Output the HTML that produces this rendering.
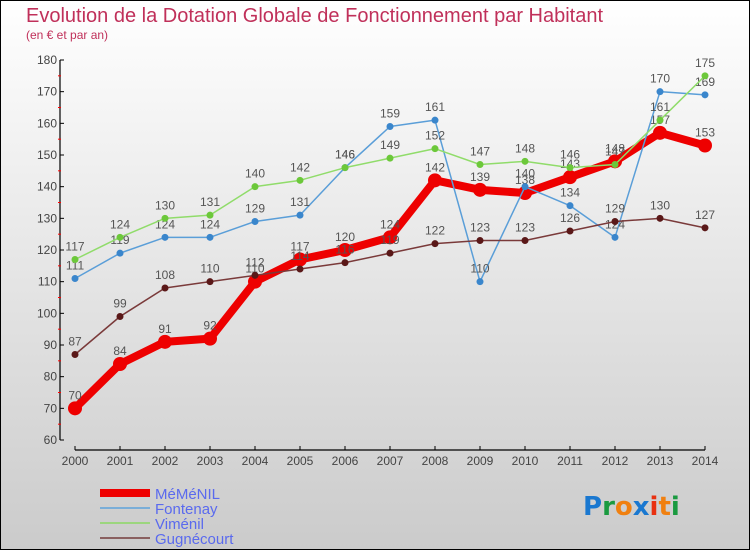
<!DOCTYPE html>
<html><head><meta charset="utf-8"><style>
body{margin:0;width:750px;height:550px;overflow:hidden}
svg{display:block;font-family:"Liberation Sans",sans-serif}
</style></head><body>
<svg width="750" height="550" viewBox="0 0 750 550">
<defs><linearGradient id="bg" x1="0" y1="0" x2="0" y2="1"><stop offset="0" stop-color="#ffffff"/><stop offset="1" stop-color="#cbcbcb"/></linearGradient></defs>
<rect x="0.5" y="0.5" width="749" height="549" fill="url(#bg)" stroke="#000"/>
<text x="26" y="22" font-size="20" fill="#c0305a">Evolution de la Dotation Globale de Fonctionnement par Habitant</text>
<text x="26" y="39" font-size="12" fill="#c0305a">(en € et par an)</text>
<g id="axes"></g>
<g id="series"></g>
<g>
<line x1="100" y1="493" x2="150" y2="493" stroke="#ee0000" stroke-width="8"/>
<text x="155" y="499" font-size="15" fill="#5a6aee">MéMéNIL</text>
<line x1="100" y1="508" x2="150" y2="508" stroke="#7aaed8" stroke-width="2"/>
<text x="155" y="514" font-size="15" fill="#5a6aee">Fontenay</text>
<line x1="100" y1="523" x2="150" y2="523" stroke="#9cd67e" stroke-width="2"/>
<text x="155" y="529" font-size="15" fill="#5a6aee">Viménil</text>
<line x1="100" y1="538" x2="150" y2="538" stroke="#8a6060" stroke-width="2"/>
<text x="155" y="544" font-size="15" fill="#5a6aee">Gugnécourt</text>
</g>
<g font-size="26" font-weight="bold" font-family="'DejaVu Sans',sans-serif">
<text x="583" y="515"><tspan fill="#1a78d0">P</tspan><tspan fill="#1a9a40">r</tspan><tspan fill="#f08010">o</tspan><tspan fill="#1a78d0">x</tspan><tspan fill="#e83010">i</tspan><tspan fill="#f08010">t</tspan><tspan fill="#1a9a40">i</tspan></text>
</g>
</svg>
<script>
const years=[2000,2001,2002,2003,2004,2005,2006,2007,2008,2009,2010,2011,2012,2013,2014];
const yTicks=[60,70,80,90,100,110,120,130,140,150,160,170,180];
const memenil=[70,84,91,92,110,117,120,124,142,139,138,143,148,157,153];
const fontenay=[111,119,124,124,129,131,146,159,161,110,140,134,124,170,169];
const vimenil=[117,124,130,131,140,142,146,149,152,147,148,146,147,161,175];
const gugnecourt=[87,99,108,110,112,114,116,119,122,123,123,126,129,130,127];
const NS="http://www.w3.org/2000/svg";
const x=i=>75+i*45;
const y=v=>440-(v-60)*380/120;
function mk(tag,attrs,parent){const e=document.createElementNS(NS,tag);for(const k in attrs)e.setAttribute(k,attrs[k]);parent.appendChild(e);return e;}
const ax=document.getElementById('axes');
let l=mk('line',{x1:60,y1:y(180),x2:60,y2:y(60),stroke:'#000','stroke-width':1.2},ax);


l=mk('line',{x1:75,y1:450,x2:x(14),y2:450,stroke:'#000','stroke-width':1.2},ax);


yTicks.forEach((t,i)=>{
 mk('line',{x1:60,y1:y(t),x2:64,y2:y(t),stroke:'#000'},ax);
 if(i<yTicks.length-1)mk('line',{x1:58,y1:y(t+5),x2:61,y2:y(t+5),stroke:'#f00'},ax);
 const tx=mk('text',{x:57,y:y(t)+4,'font-size':12,fill:'#444','text-anchor':'end'},ax);
 tx.textContent=t;
 
 
});
years.forEach((yr,i)=>{
 mk('line',{x1:x(i),y1:446,x2:x(i),y2:450,stroke:'#000'},ax);
 const tx=mk('text',{x:x(i),y:465,'font-size':12,fill:'#444','text-anchor':'middle'},ax);
 tx.textContent=yr;
 
 
});
const sg=document.getElementById('series');
function draw(vals,name,lc,dc,lw,r){
 const g=mk('g',{},sg);
 
 
 const p=mk('polyline',{points:vals.map((v,i)=>x(i)+','+y(v)).join(' '),fill:'none',stroke:lc,'stroke-width':lw,'stroke-linejoin':'round'},g);
 
 
 vals.forEach((v,i)=>{
  const c=mk('circle',{cx:x(i),cy:y(v),r:r,fill:dc},g);
  
  
  const t=mk('text',{x:x(i),y:y(v)-9,'font-size':12,fill:'#555','text-anchor':'middle'},g);
  t.textContent=v;
  
  
 });
}
draw(memenil,'memenil','#ee0000','#ee0000',8,7);
draw(fontenay,'fontenay','#5a9ed8','#3a86cc',1.5,3.5);
draw(vimenil,'vimenil','#90dc6a','#6cc83a',1.5,3.5);
draw(gugnecourt,'gugnecourt','#7a3a3a','#5a1818',1.5,3.5);
</script>
</body></html>
